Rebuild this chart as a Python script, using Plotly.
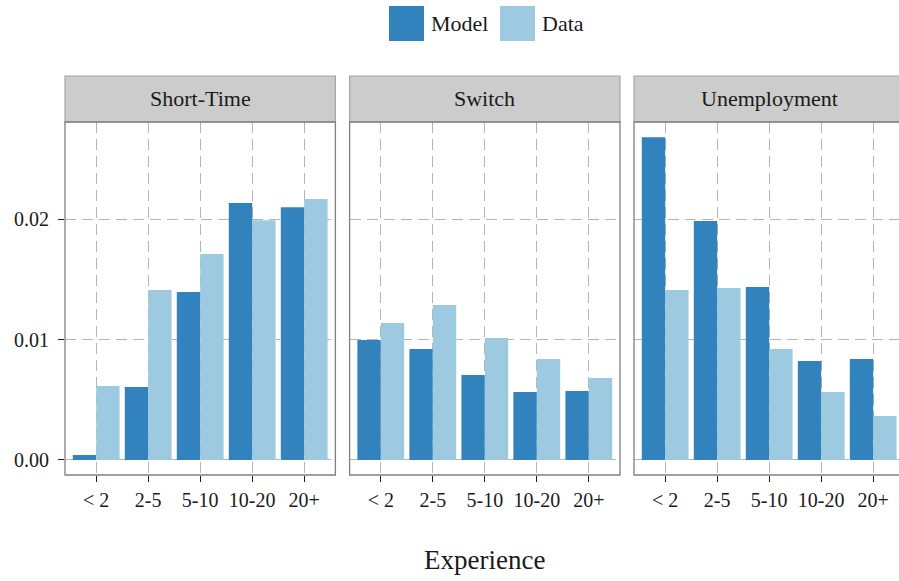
import plotly.graph_objects as go

# Experience groups and facet panels
categories = ["< 2", "2-5", "5-10", "10-20", "20+"]
panels = ["Short-Time", "Switch", "Unemployment"]

# Transition rates by experience group
model_short_time = [0.00041, 0.00607, 0.01396, 0.02136, 0.02102]
data_short_time = [0.00615, 0.01413, 0.01712, 0.01994, 0.02169]
model_switch = [0.00997, 0.00922, 0.00706, 0.00565, 0.00573]
data_switch = [0.01139, 0.01288, 0.01014, 0.00839, 0.00681]
model_unemployment = [0.02684, 0.01986, 0.01438, 0.00823, 0.00839]
data_unemployment = [0.01413, 0.01429, 0.00922, 0.00565, 0.00366]

y_tick_values = [0.00, 0.01, 0.02]
y_tick_labels = ["0.00", "0.01", "0.02"]

MODEL_COLOR = "#3182BD"
DATA_COLOR = "#9ECAE1"
FONT = "Liberation Serif"
TEXT_COLOR = "#1a1a1a"
GRID_COLOR = "#B5B5B5"
GRID_DASH = "11px,6px"

W, H = 899, 581
series = [
    (model_short_time, data_short_time),
    (model_switch, data_switch),
    (model_unemployment, data_unemployment),
]

# Panel geometry in pixels
panel_left = [65.0, 349.6, 634.0]
panel_width = 270.4
panel_top, panel_bottom = 122.0, 475.0
strip_top = 76.0
cat_step = panel_width / 5.2


def px_x(v):
    return v / W


def px_y(v):
    return 1 - v / H


fig = go.Figure()

for i, (model_vals, data_vals) in enumerate(series):
    axn = "" if i == 0 else str(i + 1)
    fig.add_trace(go.Bar(x=categories, y=model_vals, name="Model",
                         marker=dict(color=MODEL_COLOR, line=dict(width=0)),
                         xaxis="x" + axn, yaxis="y" + axn, showlegend=False))
    fig.add_trace(go.Bar(x=categories, y=data_vals, name="Data",
                         marker=dict(color=DATA_COLOR, line=dict(width=0)),
                         xaxis="x" + axn, yaxis="y" + axn, showlegend=False))

layout = dict(
    width=W, height=H,
    margin=dict(l=0, r=0, t=0, b=0),
    paper_bgcolor="white", plot_bgcolor="white",
    barmode="group", bargap=0.1, bargroupgap=0,
    font=dict(family=FONT, color=TEXT_COLOR),
    showlegend=False,
)

shapes = []
annotations = []
for i, name in enumerate(panels):
    left = panel_left[i]
    right_px = left + panel_width
    dom_right = min(right_px, W)
    x_range_hi = -0.6 + (dom_right - left) / cat_step
    axn = "" if i == 0 else str(i + 1)
    layout["xaxis" + axn] = dict(
        domain=[px_x(left), px_x(dom_right)],
        anchor="y" + axn,
        type="category",
        categoryorder="array", categoryarray=categories,
        range=[-0.6, x_range_hi],
        showgrid=True, gridcolor=GRID_COLOR, gridwidth=1, griddash=GRID_DASH,
        ticks="outside", ticklen=6, tickwidth=1.2, tickcolor="#1a1a1a",
        ticklabelstandoff=1,
        tickfont=dict(family=FONT, size=20, color=TEXT_COLOR),
        showline=False, zeroline=False, fixedrange=True,
    )
    layout["yaxis" + axn] = dict(
        domain=[px_y(panel_bottom), px_y(panel_top)],
        anchor="x" + axn,
        range=[-0.00125, 0.0281],
        tickvals=y_tick_values, ticktext=y_tick_labels,
        showticklabels=(i == 0),
        ticks="outside" if i == 0 else "",
        ticklen=6, tickwidth=1.2, tickcolor="#1a1a1a",
        ticklabelstandoff=5,
        tickfont=dict(family=FONT, size=20, color=TEXT_COLOR),
        showgrid=True, gridcolor=GRID_COLOR, gridwidth=1, griddash=GRID_DASH,
        showline=False, zeroline=False, fixedrange=True,
    )
    # Strip header
    shapes.append(dict(type="rect", xref="paper", yref="paper",
                       x0=px_x(left), x1=px_x(right_px),
                       y0=px_y(panel_top), y1=px_y(strip_top),
                       fillcolor="#CCCCCC", line=dict(color="#A6A6A6", width=1.2),
                       layer="above"))
    # Panel frame
    shapes.append(dict(type="rect", xref="paper", yref="paper",
                       x0=px_x(left), x1=px_x(right_px),
                       y0=px_y(panel_bottom), y1=px_y(panel_top),
                       fillcolor="rgba(0,0,0,0)", line=dict(color="#808080", width=1.3),
                       layer="above"))
    annotations.append(dict(text=name, xref="paper", yref="paper",
                            x=px_x(left + panel_width / 2), y=px_y((strip_top + panel_top) / 2),
                            xanchor="center", yanchor="middle", showarrow=False,
                            font=dict(family=FONT, size=22, color=TEXT_COLOR)))

# Legend keys drawn at the top centre
legend_items = [("Model", MODEL_COLOR, 389.0), ("Data", DATA_COLOR, 500.0)]
for label, color, x0 in legend_items:
    shapes.append(dict(type="rect", xref="paper", yref="paper",
                       x0=px_x(x0), x1=px_x(x0 + 35), y0=px_y(41), y1=px_y(6),
                       fillcolor=color, line=dict(width=0)))
    annotations.append(dict(text=label, xref="paper", yref="paper",
                            x=px_x(x0 + 40), y=px_y(23.5),
                            xanchor="left", yanchor="middle", showarrow=False,
                            font=dict(family=FONT, size=22, color=TEXT_COLOR)))

# Shared x-axis title
annotations.append(dict(text="Experience", xref="paper", yref="paper",
                        x=px_x(484.5), y=px_y(560),
                        xanchor="center", yanchor="middle", showarrow=False,
                        font=dict(family=FONT, size=27, color=TEXT_COLOR)))

layout["shapes"] = shapes
layout["annotations"] = annotations
fig.update_layout(**layout)

fig.write_html("out.html")
